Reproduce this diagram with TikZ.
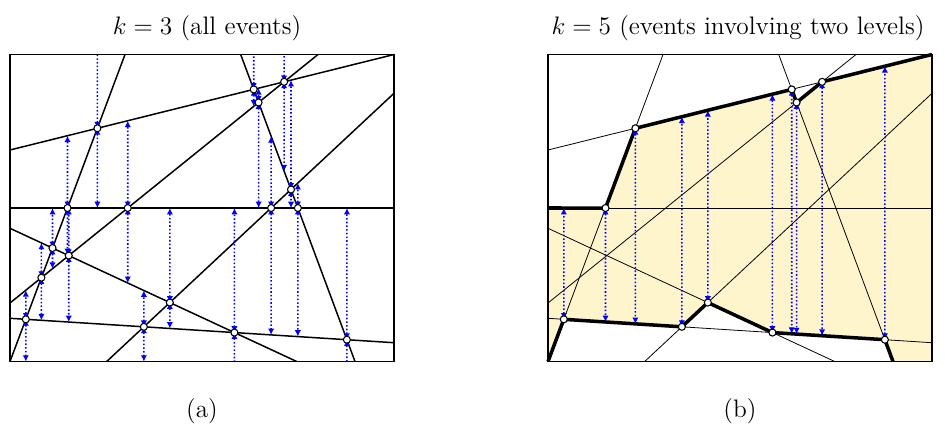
\documentclass[tikz,border=0pt]{standalone}
\usepackage{amsmath}
\usetikzlibrary{arrows.meta}
\definecolor{evblue}{RGB}{0,0,255}
\definecolor{levelfill}{RGB}{255,245,204}

% the eight lines of the arrangement, the frame and the vertices
\newcommand{\arrlines}{%
  \coordinate (A1) at (10,150);     \coordinate (A2) at (394,54.5);
  \coordinate (B1) at (125,54.5);   \coordinate (B2) at (10,361.5);
  \coordinate (C1) at (10,303);     \coordinate (C2) at (318,54.5);
  \coordinate (D1) at (240.7,54.5); \coordinate (D2) at (355,361.5);
  \coordinate (E1) at (106.7,361.5);\coordinate (E2) at (394,93.3);
  \coordinate (F1) at (10,228.3);   \coordinate (F2) at (296.7,361.5);
  \coordinate (G1) at (10,318.3);   \coordinate (G2) at (394,342.7);
  \coordinate (H1) at (10,208);     \coordinate (H2) at (394,208);
  \coordinate (top1) at (10,54.5);  \coordinate (top2) at (394,54.5);
  \coordinate (bot1) at (10,361.5); \coordinate (bot2) at (394,361.5);
  \coordinate (AB) at (intersection of A1--A2 and B1--B2);
  \coordinate (AD) at (intersection of A1--A2 and D1--D2);
  \coordinate (CD) at (intersection of C1--C2 and D1--D2);
  \coordinate (AC) at (intersection of A1--A2 and C1--C2);
  \coordinate (DE) at (intersection of D1--D2 and E1--E2);
  \coordinate (HB) at (intersection of H1--H2 and B1--B2);
  \coordinate (HC) at (intersection of H1--H2 and C1--C2);
  \coordinate (HE) at (intersection of H1--H2 and E1--E2);
  \coordinate (HD) at (intersection of H1--H2 and D1--D2);
  \coordinate (BF) at (intersection of B1--B2 and F1--F2);
  \coordinate (CF) at (intersection of C1--C2 and F1--F2);
  \coordinate (BC) at (intersection of B1--B2 and C1--C2);
  \coordinate (BG) at (intersection of B1--B2 and G1--G2);
  \coordinate (EG) at (intersection of E1--E2 and G1--G2);
  \coordinate (EF) at (intersection of E1--E2 and F1--F2);
  \coordinate (FG) at (intersection of F1--F2 and G1--G2);
  \coordinate (DG) at (intersection of D1--D2 and G1--G2);
}
% vertical event from a vertex to the line straight above or below it
\newcommand{\evt}[3][ev]{%
  \coordinate (tmp) at (#2 |- 0,0);
  \draw[#1] (#2) -- (intersection of #2--tmp and #31--#32);}

\begin{document}
\begin{tikzpicture}[x=0.02cm,y=-0.02cm,
  ev/.style={evblue,line width=0.9pt,dash pattern=on 0.9pt off 1.2pt,
    {Latex[length=3.6pt,width=3.6pt]}-{Latex[length=3.6pt,width=3.6pt]}},
  evone/.style={ev,{Latex[length=3.6pt,width=3.6pt]}-},
  vtx/.style={draw=black,fill=white,line width=0.6pt},
  frame/.style={draw=black,line width=1.1pt},
  lbl/.style={font=\Large}]
  \useasboundingbox (0,0) rectangle (945,426);

  % (a) all events
  \begin{scope}
    \arrlines
    \foreach \l in {A,B,C,D,E,F,G,H}
      \draw[line width=0.85pt] (\l1) -- (\l2);
    \evt[evone]{AB}{top} \evt{AB}{H}
    \evt[evone]{AD}{top} \evt{AD}{C}
    \evt{CD}{A} \evt{CD}{H}
    \evt[evone]{AC}{top} \evt{AC}{D}
    \evt{DE}{A} \evt{DE}{H}
    \evt{HB}{A} \evt{HB}{F}
    \evt{HC}{A} \evt{HC}{F}
    \evt{HE}{D} \evt{HE}{G}
    \evt{HD}{E} \evt{HD}{G}
    \evt{BF}{H} \evt{BF}{C}
    \evt{CF}{H} \evt{CF}{G}
    \evt{BC}{F} \evt{BC}{G}
    \evt{BG}{C} \evt{BG}{bot}
    \evt{EG}{F} \evt{EG}{bot}
    \evt{EF}{H} \evt{EF}{G}
    \evt{FG}{H} \evt[evone]{FG}{bot}
    \evt{DG}{H} \evt[evone]{DG}{bot}
    \foreach \v in {AB,AD,CD,AC,DE,HB,HC,HE,HD,BF,CF,BC,BG,EG,EF,FG,DG}
      \draw[vtx] (\v) circle[radius=2pt];
    \draw[frame] (top1) rectangle (bot2);
  \end{scope}

  % (b) events involving two levels
  \begin{scope}[shift={(538,0)}]
    \arrlines
    \fill[levelfill] (H1) -- (HB) -- (AB) -- (AD) -- (CD) -- (AC) -- (A2)
      -- (bot2) -- (D2) -- (DG) -- (FG) -- (EF) -- (EG) -- (BG) -- (B2) -- cycle;
    \foreach \l in {A,B,C,D,E,F,G,H}
      \draw[line width=0.45pt] (\l1) -- (\l2);
    \draw[line width=2pt,line join=round] (H1) -- (HB) -- (AB) -- (AD) -- (CD) -- (AC) -- (A2);
    \draw[line width=2pt,line join=round] (B2) -- (BG) -- (EG) -- (EF) -- (FG) -- (DG) -- (D2);
    \evt{HB}{G} \evt{AB}{G} \evt{AD}{G} \evt{CD}{G} \evt{AC}{G}
    \evt{BG}{H} \evt{EG}{A} \evt{EF}{A} \evt{FG}{A} \evt{DG}{A}
    \foreach \v in {HB,AB,AD,CD,AC,BG,EG,EF,FG,DG}
      \draw[vtx] (\v) circle[radius=2pt];
    \draw[frame] (top1) rectangle (bot2);
  \end{scope}

  \node[lbl] (titlea) at (207,28) {$k=3$ (all events)};
  \node[lbl] (titleb) at (738,28) {$k=5$ (events involving two levels)};
  \node[lbl] (capa) at (202,411) {(a)};
  \node[lbl] (capb) at (740,411) {(b)};
\end{tikzpicture}
\end{document}
